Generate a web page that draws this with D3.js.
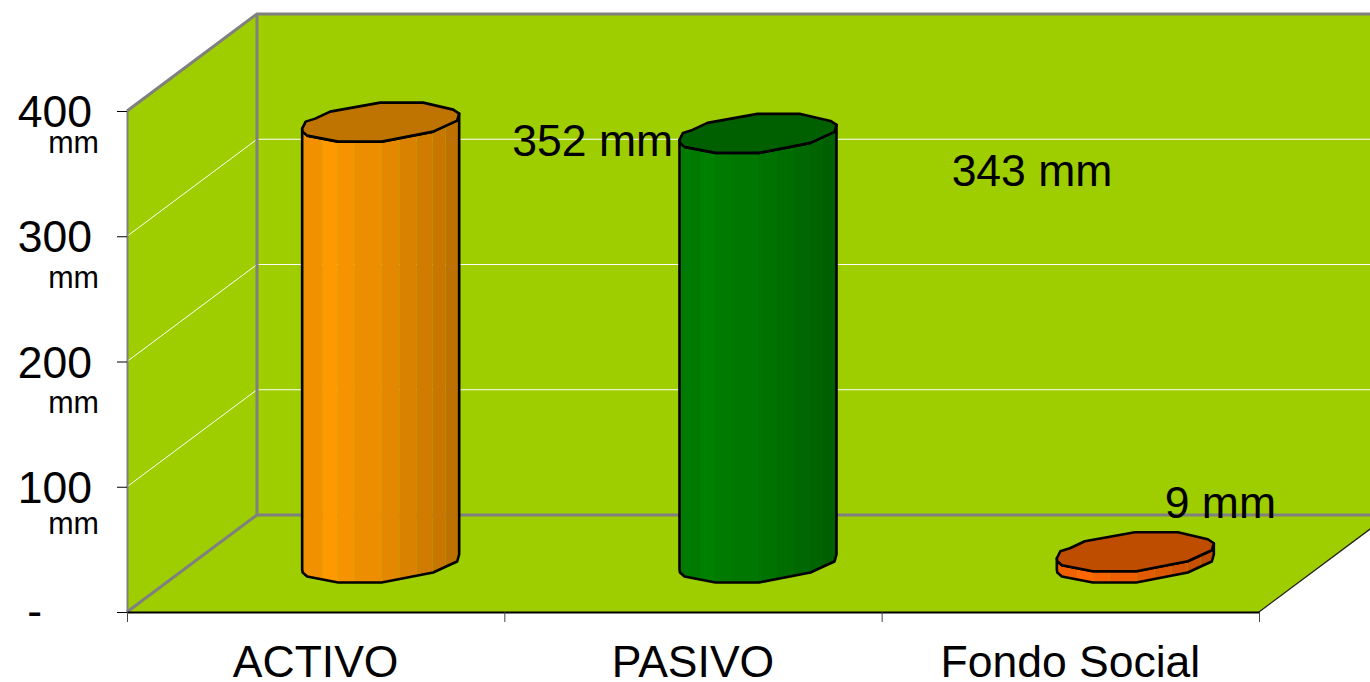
<!DOCTYPE html>
<html>
<head>
<meta charset="utf-8">
<title>Chart</title>
<script src="https://cdn.jsdelivr.net/npm/d3@7"></script>
<style>
	html, body { margin: 0; padding: 0; background: #fff; overflow: hidden; }
	svg { display: block; }
	text { font-family: "Liberation Sans", Arial, sans-serif; fill: #000; }
</style>
</head>
<body>
<svg id="chart"></svg>
<script>
var categories = ["ACTIVO", "PASIVO", "Fondo Social"];
var values = [352, 343, 9];
var valueLabels = ["352 mm", "343 mm", "9 mm"];
var barColors = ["#ff9900", "#008000", "#ff6600"];
var yTicks = [0, 100, 200, 300, 400];
var yTickLabels = ["-", "100", "200", "300", "400"];

var width = 1370;
var height = 682;
var left = 127, right = 1259, floorY = 612;
var depthX = 130, depthY = 97;
var wallColor = "#9ecd00";

// little dragged labels, they don't sit at any regular spot in the original
var labelShift = [[212, 33], [274, 52], [85, -34]];
var unitShift = [0, 47, 51, 52, 42];

// outline of the cylinder cap, seen from above (px from the cap center)
var capTop = [[-78.5, 6], [-75, -1], [-65.5, -4], [-50.5, -11], [-0.5, -20], [42.5, -20], [72.5, -13], [78.5, -9]];
var capBottom = [[-78.5, 6], [-78, 9], [-73.5, 13], [-42.5, 19], [1, 19], [52.5, 9], [66.5, 2.5], [76.5, -2], [78.5, -9]];
// facets on the side of the cylinder and how bright each one is
var facetEdges = [-78.5, -58, -43, -26, 1, 19, 36, 52, 65, 78.5];
var facetShade = [0.95, 1, 0.96, 0.93, 0.89, 0.85, 0.81, 0.78, 0.74];

var svg = d3.select("#chart")
	.attr("width", width)
	.attr("height", height);

var xBand = d3.scaleBand()
	.domain(categories)
	.range([left, right]);
var xEdges = d3.scaleLinear()
	.domain([0, categories.length])
	.range([left, right]);
var yScale = d3.scaleLinear()
	.domain([0, 400])
	.range([floorY, 111]);

var line = d3.line();

// walls and floor
var backY = floorY - depthY;
var topBack = yScale(400) - depthY;
svg.append("path")
	.attr("fill", wallColor)
	.attr("d", line([[left, floorY], [left, yScale(400)], [left + depthX, topBack], [right + depthX, topBack], [right + depthX, backY], [right, floorY]]));

// gridlines on left and back wall
yTicks.slice(1, 4).forEach(function (t) {
	svg.append("path")
		.attr("fill", "none")
		.attr("stroke", "#fff")
		.attr("stroke-width", 1)
		.attr("d", line([[left, yScale(t)], [left + depthX, yScale(t) - depthY], [right + depthX, yScale(t) - depthY]]));
});

// wall edges
var edges = [
	[[left, yScale(400)], [left + depthX, topBack], [right + depthX, topBack]],
	[[left + depthX, topBack], [left + depthX, backY], [right + depthX, backY]],
	[[left, floorY], [left + depthX, backY]]
];
edges.forEach(function (e) {
	svg.append("path")
		.attr("fill", "none")
		.attr("stroke", "#808080")
		.attr("stroke-width", 3)
		.attr("d", line(e));
});
svg.append("path")
	.attr("fill", "none")
	.attr("stroke", "#222")
	.attr("stroke-width", 1.3)
	.attr("d", line([[right, floorY], [right + depthX, backY]]));

// axes
var yAxis = d3.axisLeft(yScale)
	.tickValues(yTicks)
	.tickSize(10)
	.tickSizeOuter(0)
	.tickFormat("");
var yG = svg.append("g")
	.attr("transform", "translate(" + left + ",0)")
	.call(yAxis);
yG.select(".domain").attr("stroke", "#808080").attr("stroke-width", 2);
yG.selectAll(".tick line").attr("stroke", "#000").attr("stroke-width", 1);

var xAxis = d3.axisBottom(xEdges)
	.tickValues(d3.range(categories.length + 1))
	.tickSize(10)
	.tickSizeOuter(0)
	.tickFormat("");
var xG = svg.append("g")
	.attr("transform", "translate(0," + floorY + ")")
	.call(xAxis);
xG.select(".domain").attr("stroke", "#000").attr("stroke-width", 2);
xG.selectAll(".tick line").attr("stroke", "#444").attr("stroke-width", 1);

// y labels, number with the unit wrapped under it
yTicks.forEach(function (t, i) {
	svg.append("text")
		.attr("x", i == 0 ? 42 : 92)
		.attr("y", yScale(t) + (i == 0 ? 14 : 16))
		.attr("text-anchor", "end")
		.attr("font-size", 44.5)
		.text(yTickLabels[i]);
	if (i > 0) {
		svg.append("text")
			.attr("x", 99)
			.attr("y", yScale(t) + unitShift[i])
			.attr("text-anchor", "end")
			.attr("font-size", 30.5)
			.text("mm");
	}
});

svg.selectAll(".cat")
	.data(categories)
	.enter()
	.append("text")
	.classed("cat", true)
	.attr("x", function (d) {
		return xBand(d) + xBand.bandwidth() / 2;
	})
	.attr("y", 677)
	.attr("text-anchor", "middle")
	.attr("font-size", 44.5)
	.text(function (d) {
		return d;
	});

// bars
var capX = capBottom.map(function (p) { return p[0]; });
var capY = capBottom.map(function (p) { return p[1]; });
var sideY = d3.scaleLinear().domain(capX.slice(0, -1).concat([78.5])).range(capY);

function facetXs(a, b) {
	var inner = capX.filter(function (x) {
		return x > a && x < b;
	});
	return [a].concat(inner, [b]);
}

categories.forEach(function (c, i) {
	var cx = xBand(c) + xBand.bandwidth() / 2 + depthX / 2;
	var baseY = floorY - depthY / 2;
	var barH = floorY - yScale(values[i]);
	var topY = baseY - barH;
	var g = svg.append("g");

	function offset(pts, y0) {
		return pts.map(function (p) {
			return [cx + p[0], y0 + p[1]];
		});
	}

	// side facets
	d3.range(facetShade.length).forEach(function (k) {
		var xs = facetXs(facetEdges[k], facetEdges[k + 1]);
		var lower = xs.map(function (x) { return [cx + x, baseY + sideY(x)]; });
		var upper = xs.map(function (x) { return [cx + x, topY + sideY(x)]; }).reverse();
		g.append("path")
			.attr("fill", d3.interpolateRgb("#000", barColors[i])(facetShade[k]))
			.attr("d", line(lower.concat(upper)) + "Z");
	});

	// silhouette of the side
	var bottomEdge = offset(capBottom, baseY);
	var topEdge = offset(capBottom, topY).reverse();
	g.append("path")
		.attr("fill", "none")
		.attr("stroke", "#000")
		.attr("stroke-width", 2.6)
		.attr("stroke-linejoin", "round")
		.attr("d", line(bottomEdge.concat(topEdge)) + "Z");

	// cap
	var cap = offset(capBottom.concat(capTop.slice().reverse().slice(1, -1)), topY);
	g.append("path")
		.attr("fill", d3.interpolateRgb("#000", barColors[i])(0.75))
		.attr("stroke", "#000")
		.attr("stroke-width", 2.6)
		.attr("stroke-linejoin", "round")
		.attr("d", line(cap) + "Z");

	svg.append("text")
		.attr("x", cx + labelShift[i][0])
		.attr("y", topY + labelShift[i][1])
		.attr("text-anchor", "middle")
		.attr("font-size", 44.5)
		.text(valueLabels[i]);
});
</script>
</body>
</html>
